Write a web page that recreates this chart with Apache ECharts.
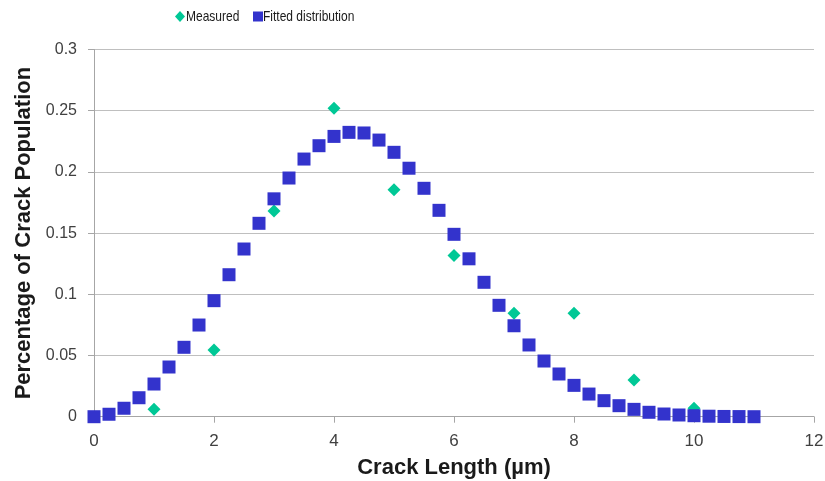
<!DOCTYPE html>
<html>
<head>
<meta charset="utf-8">
<script src="https://cdn.jsdelivr.net/npm/echarts@6/dist/echarts.min.js"></script>
<style>
  html, body { margin: 0; padding: 0; background: #fff; }
  #chart { width: 825px; height: 481px; }
</style>
</head>
<body>
<div id="chart"></div>
<script>
// Crack length (µm) at which the fitted distribution is evaluated
const fittedLengths = [0, 0.25, 0.5, 0.75, 1, 1.25, 1.5, 1.75, 2, 2.25, 2.5, 2.75, 3, 3.25, 3.5, 3.75,
  4, 4.25, 4.5, 4.75, 5, 5.25, 5.5, 5.75, 6, 6.25, 6.5, 6.75, 7, 7.25, 7.5, 7.75,
  8, 8.25, 8.5, 8.75, 9, 9.25, 9.5, 9.75, 10, 10.25, 10.5, 10.75, 11];
// Fitted distribution: fraction of crack population
const fittedValues = [0, 0.002, 0.0069, 0.0155, 0.0267, 0.0406, 0.0567, 0.0749, 0.0948, 0.116, 0.137, 0.158,
  0.178, 0.195, 0.2105, 0.2214, 0.229, 0.2323, 0.2318, 0.226, 0.216, 0.203, 0.1866, 0.1686,
  0.149, 0.129, 0.1098, 0.091, 0.0743, 0.0586, 0.0455, 0.0349, 0.0256, 0.0185, 0.0131, 0.009,
  0.006, 0.0036, 0.0022, 0.0014, 0.0008, 0.0004, 0.0002, 0.0001, 0];
// Measured crack lengths (µm) and their share of the population
const measuredLengths = [1, 2, 3, 4, 5, 6, 7, 8, 9, 10];
const measuredValues = [0.006, 0.0545, 0.168, 0.252, 0.1855, 0.1318, 0.0845, 0.0845, 0.030, 0.0069];

const pairs = (xs, ys) => xs.map((x, i) => [x, ys[i]]);

const FONT = '"Liberation Sans", Arial, sans-serif';
const MEASURED_COLOR = '#00c896';
const FITTED_COLOR = '#3333cc';
const chart = echarts.init(document.getElementById('chart'), null, { renderer: 'canvas' });

// Compact legend drawn with a condensed label face
const legendText = (text, x) => ({
  type: 'text', x: x, y: 16.5, scaleX: 0.8,
  style: { text: text, font: '15px ' + FONT, fill: '#1a1a1a', textVerticalAlign: 'middle', textAlign: 'left' }
});

chart.setOption({
  animation: false,
  backgroundColor: '#ffffff',
  textStyle: { fontFamily: FONT },
  legend: { show: false, data: ['Measured', 'Fitted distribution'] },
  graphic: [
    { type: 'polygon', shape: { points: [[180, 11], [185, 16.5], [180, 22], [175, 16.5]] },
      style: { fill: MEASURED_COLOR } },
    legendText('Measured', 186),
    { type: 'rect', shape: { x: 253, y: 11.5, width: 10, height: 10 }, style: { fill: FITTED_COLOR } },
    legendText('Fitted distribution', 263)
  ],
  grid: { left: 94, right: 11, top: 49.5, bottom: 64.3, containLabel: false, outerBoundsMode: 'none' },
  xAxis: {
    type: 'value',
    min: 0, max: 12, interval: 2,
    name: 'Crack Length (µm)',
    nameLocation: 'middle',
    nameGap: 40,
    nameTextStyle: { fontFamily: FONT, fontSize: 22, fontWeight: 'bold', color: '#1a1a1a' },
    axisLine: { show: true, lineStyle: { color: '#a6a6a6', width: 1 } },
    axisTick: { show: true, length: 6, inside: false, lineStyle: { color: '#a6a6a6' } },
    axisLabel: { fontFamily: FONT, fontSize: 17, color: '#404040', margin: 16 },
    splitLine: { show: false }
  },
  yAxis: {
    type: 'value',
    min: 0, max: 0.3, interval: 0.05,
    name: 'Percentage of Crack Population',
    nameLocation: 'middle',
    nameGap: 59,
    nameTextStyle: { fontFamily: FONT, fontSize: 22, fontWeight: 'bold', color: '#1a1a1a' },
    axisLine: { show: true, lineStyle: { color: '#a6a6a6', width: 1 } },
    axisTick: { show: true, length: 6, lineStyle: { color: '#a6a6a6' } },
    axisLabel: { fontFamily: FONT, fontSize: 16, color: '#404040', margin: 17,
      formatter: v => String(Math.round(v * 100) / 100) },
    splitLine: { show: true, lineStyle: { color: '#bfbfbf', width: 1 } }
  },
  series: [
    {
      name: 'Measured',
      type: 'scatter',
      symbol: 'diamond',
      symbolSize: 13,
      itemStyle: { color: MEASURED_COLOR, opacity: 1 },
      data: pairs(measuredLengths, measuredValues),
      z: 2
    },
    {
      name: 'Fitted distribution',
      type: 'scatter',
      symbol: 'rect',
      symbolSize: 13,
      itemStyle: { color: FITTED_COLOR, opacity: 1 },
      data: pairs(fittedLengths, fittedValues),
      z: 3
    }
  ]
});
</script>
</body>
</html>
